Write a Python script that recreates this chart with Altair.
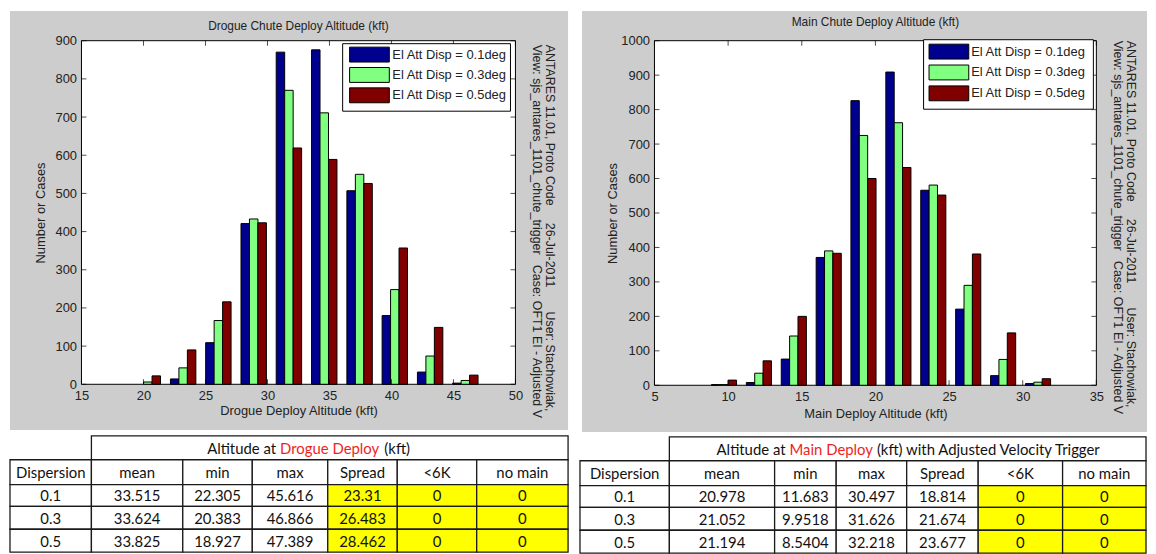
import altair as alt
import pandas as pd

# ---------------------------------------------------------------- data
SERIES = ["El Att Disp = 0.1deg", "El Att Disp = 0.3deg", "El Att Disp = 0.5deg"]
SERIES_COLORS = ["#00008F", "#80FF80", "#800000"]

DROGUE_BIN_CENTERS = [20.35, 23.20, 26.04, 28.89, 31.73, 34.58, 37.43, 40.27, 43.12, 45.96]
DROGUE_COUNTS_01 = [0, 14, 109, 421, 870, 876, 507, 180, 32, 3]
DROGUE_COUNTS_03 = [6, 43, 167, 433, 770, 711, 550, 248, 74, 10]
DROGUE_COUNTS_05 = [22, 90, 216, 423, 619, 589, 526, 357, 149, 24]

MAIN_BIN_CENTERS = [9.72, 12.09, 14.46, 16.83, 19.19, 21.56, 23.93, 26.30, 28.67, 31.04]
MAIN_COUNTS_01 = [2, 8, 76, 371, 826, 909, 566, 221, 28, 5]
MAIN_COUNTS_03 = [2, 35, 143, 390, 725, 762, 581, 290, 75, 9]
MAIN_COUNTS_05 = [15, 71, 200, 383, 600, 632, 552, 381, 152, 19]

DROGUE_X_TICKS = [15, 20, 25, 30, 35, 40, 45, 50]
DROGUE_Y_TICKS = [0, 100, 200, 300, 400, 500, 600, 700, 800, 900]
MAIN_X_TICKS = [5, 10, 15, 20, 25, 30, 35]
MAIN_Y_TICKS = [0, 100, 200, 300, 400, 500, 600, 700, 800, 900, 1000]

TABLE_COLUMNS = ["Dispersion", "mean", "min", "max", "Spread", "<6K", "no main"]
DISPERSIONS = ["0.1", "0.3", "0.5"]

DROGUE_MEAN = ["33.515", "33.624", "33.825"]
DROGUE_MIN = ["22.305", "20.383", "18.927"]
DROGUE_MAX = ["45.616", "46.866", "47.389"]
DROGUE_SPREAD = ["23.31", "26.483", "28.462"]
DROGUE_UNDER_6K = ["0", "0", "0"]
DROGUE_NO_MAIN = ["0", "0", "0"]

MAIN_MEAN = ["20.978", "21.052", "21.194"]
MAIN_MIN = ["11.683", "9.9518", "8.5404"]
MAIN_MAX = ["30.497", "31.626", "32.218"]
MAIN_SPREAD = ["18.814", "21.674", "23.677"]
MAIN_UNDER_6K = ["0", "0", "0"]
MAIN_NO_MAIN = ["0", "0", "0"]

NBSP = "\u00a0"
SIDE_LINE_1 = ("ANTARES 11.01, Proto Code" + NBSP * 5 + "26-Jul-2011" + NBSP * 7
               + "User: Stachowiak,")
SIDE_LINE_2 = ("View: sjs_antares_1101_chute_trigger" + NBSP * 3
               + "Case: OFT1 EI - Adjusted V")

# ---------------------------------------------------------------- style
GREY = "#CDCDCD"
YELLOW = "#FFFF00"
RED_TEXT = "#F01E1E"
INK = "#222222"
FONT = "Liberation Sans"
TFONT = "Lato"
RECT_PATH = "M-1,-0.375H1V0.375H-1Z"
BAR_FRACTION = 0.24
ROW_EDGES = [0, 24, 49, 71, 94, 117]

DUMMY = pd.DataFrame({"k": [0]})


def bars_frame(centers, counts_list, spacing):
    bw = spacing * BAR_FRACTION
    rows = []
    for si, (name, counts) in enumerate(zip(SERIES, counts_list)):
        for c, n in zip(centers, counts):
            left = c + (si - 1.5) * bw
            rows.append({"series": name, "x0": left, "x1": left + bw, "count": n})
    return pd.DataFrame(rows)


def value_rect(x0, x1, y0, y1, **kw):
    return alt.Chart(DUMMY).mark_rect(**kw).encode(
        x=alt.value(x0), x2=alt.value(x1), y=alt.value(y0), y2=alt.value(y1))


def value_text(text, x, y, **kw):
    return alt.Chart(DUMMY).mark_text(text=text, font=FONT, color=INK, **kw).encode(
        x=alt.value(x), y=alt.value(y))


def table_layers(values_by_col, col_edges, x_off, y_off, yellow_cols, header_parts):
    W = col_edges[-1]
    H = ROW_EDGES[-1]
    xs = alt.Scale(domain=[0, W], range=[x_off, x_off + W], nice=False, zero=False)
    ys = alt.Scale(domain=[0, H], range=[y_off, y_off + H], nice=False, zero=False)
    cells = [dict(x0=col_edges[1], x1=W, y0=ROW_EDGES[0], y1=ROW_EDGES[1],
                  fill="white", text="")]
    for ci, name in enumerate(TABLE_COLUMNS):
        cells.append(dict(x0=col_edges[ci], x1=col_edges[ci + 1], y0=ROW_EDGES[1],
                          y1=ROW_EDGES[2], fill="white", text=name))
    for ri in range(3):
        for ci, col in enumerate(values_by_col):
            cells.append(dict(x0=col_edges[ci], x1=col_edges[ci + 1],
                              y0=ROW_EDGES[2 + ri], y1=ROW_EDGES[3 + ri],
                              fill=YELLOW if ci in yellow_cols else "white",
                              text=col[ri]))
    df = pd.DataFrame(cells)
    df["xc"] = (df["x0"] + df["x1"]) / 2
    df["yc"] = (df["y0"] + df["y1"]) / 2 + 1
    rects = alt.Chart(df).mark_rect(stroke="#1a1a1a", strokeWidth=1.3).encode(
        x=alt.X("x0:Q", scale=xs, axis=None), x2="x1",
        y=alt.Y("y0:Q", scale=ys, axis=None), y2="y1",
        fill=alt.Fill("fill:N", scale=None))
    texts = alt.Chart(df[df["text"] != ""]).mark_text(
        font=TFONT, fontSize=15, color="#111111", baseline="middle").encode(
        x=alt.X("xc:Q", scale=xs, axis=None),
        y=alt.Y("yc:Q", scale=ys, axis=None),
        text="text:N")
    hdf = pd.DataFrame(header_parts)
    hdf["y"] = (ROW_EDGES[0] + ROW_EDGES[1]) / 2 + 1
    layers = [rects, texts]
    for align in ["left", "right"]:
        sub = hdf[hdf["align"] == align]
        layers.append(alt.Chart(sub).mark_text(
            font=TFONT, fontSize=15, baseline="middle", align=align).encode(
            x=alt.X("x:Q", scale=xs, axis=None),
            y=alt.Y("y:Q", scale=ys, axis=None),
            text="text:N",
            fill=alt.Fill("color:N", scale=None)))
    return layers


def build_panel(p):
    W, H = p["width"], p["height"]
    xscale = alt.Scale(domain=p["xdomain"], nice=False, zero=False)
    yscale = alt.Scale(domain=p["ydomain"], nice=False, zero=False)
    cscale = alt.Scale(domain=SERIES, range=SERIES_COLORS)

    xaxis = alt.Axis(values=p["xticks"], title=p["xtitle"], ticks=False, domain=False,
                     grid=False, labelFontSize=13, labelPadding=5, labelColor=INK,
                     labelFont=FONT, labelFlush=False, labelOverlap=False, format="d",
                     titleFont=FONT, titleFontSize=13, titleFontWeight="normal",
                     titleColor=INK, titleX=W / 2, titleY=p["xtitle_y"],
                     titleBaseline="middle", titleAlign="center", zindex=1)
    yaxis = alt.Axis(values=p["yticks"], title="Number or Cases", ticks=False,
                     domain=False, grid=False, labelFontSize=13, labelPadding=5,
                     labelColor=INK, labelFont=FONT, labelFlush=False, format="d",
                     labelOverlap=False, titleFont=FONT, titleFontSize=13,
                     titleFontWeight="normal", titleColor=INK, titleX=p["ytitle_x"],
                     titleY=H / 2, titleAngle=270, titleBaseline="middle",
                     titleAlign="center", zindex=1)

    gx0, gx1, gy0, gy1 = p["grey"]
    grey = value_rect(gx0, gx1, gy0, gy1, fill=GREY, strokeWidth=0)
    white = value_rect(0, W, 0, H, fill="white", stroke="black", strokeWidth=1)

    bars = alt.Chart(p["bars"]).transform_filter("datum.count > 0").mark_rect(
        stroke="black", strokeWidth=1).encode(
        x=alt.X("x0:Q", scale=xscale, axis=xaxis), x2="x1",
        y=alt.Y("count:Q", scale=yscale, axis=yaxis), y2=alt.datum(0),
        color=alt.Color("series:N", scale=cscale, legend=None))

    xt = pd.DataFrame({"v": p["xticks"]})
    yt = pd.DataFrame({"v": p["yticks"]})
    tick_layers = []
    for yy in [H - 2.5, 2.5]:
        tick_layers.append(alt.Chart(xt).mark_tick(color="black", size=5, thickness=1).encode(
            x=alt.X("v:Q", scale=xscale, axis=None), y=alt.value(yy)))
    for xx in [2.5, W - 2.5]:
        tick_layers.append(alt.Chart(yt).mark_tick(color="black", size=5, thickness=1).encode(
            y=alt.Y("v:Q", scale=yscale, axis=None), x=alt.value(xx)))

    lx0, lx1, ly0, ly1 = p["legend_box"]
    leg_box = value_rect(lx0, lx1, ly0, ly1, fill="white", stroke="black", strokeWidth=1)
    leg_df = pd.DataFrame({"series": SERIES})
    leg_y = alt.Y("series:N", axis=None,
                  scale=alt.Scale(type="point", domain=SERIES, range=p["legend_rows"],
                                  padding=0))
    swatches = alt.Chart(leg_df).mark_point(
        shape=RECT_PATH, size=1600, filled=True, stroke="black", strokeWidth=1,
        opacity=1).encode(x=alt.value(p["swatch_x"]), y=leg_y,
                          color=alt.Color("series:N", scale=cscale, legend=None))
    leg_labels = alt.Chart(leg_df).mark_text(
        align="left", baseline="middle", font=FONT, fontSize=13, color=INK).encode(
        x=alt.value(p["label_x"]), y=leg_y, text="series:N")

    title = value_text(p["title"], W / 2, p["title_y"], fontSize=12, align="center",
                       baseline="middle")
    side1 = value_text(SIDE_LINE_1, W + 35, p["side_y"], fontSize=12.5, angle=90,
                       align="left", baseline="middle")
    side2 = value_text(SIDE_LINE_2, W + 22, p["side_y"], fontSize=12.5, angle=90,
                       align="left", baseline="middle")

    tables = table_layers(p["table_values"], p["table_edges"], p["table_x"],
                          p["table_y"], p["yellow_cols"], p["header_parts"])

    layers = [grey, white, bars] + tick_layers + [leg_box, swatches, leg_labels,
                                                   title, side1, side2] + tables
    return alt.layer(*layers).resolve_scale(x="independent", y="independent").properties(
        width=W, height=H)


left = build_panel(dict(
    width=437, height=346,
    xdomain=[15, 50], ydomain=[0, 900],
    xticks=DROGUE_X_TICKS, yticks=DROGUE_Y_TICKS,
    xtitle="Drogue Deploy Altitude (kft)", xtitle_y=26, ytitle_x=-41,
    bars=bars_frame(DROGUE_BIN_CENTERS,
                    [DROGUE_COUNTS_01, DROGUE_COUNTS_03, DROGUE_COUNTS_05], 2.846),
    grey=(-72, 490, -30, 392),
    legend_box=(263, 432, 3, 71), legend_rows=[14, 55], swatch_x=290, label_x=313,
    title="Drogue Chute Deploy Altitude (kft)", title_y=-15, side_y=4,
    table_values=[DISPERSIONS, DROGUE_MEAN, DROGUE_MIN, DROGUE_MAX, DROGUE_SPREAD,
                  DROGUE_UNDER_6K, DROGUE_NO_MAIN],
    table_edges=[0, 82, 174, 244, 320, 390, 470, 562],
    table_x=-72, table_y=398, yellow_cols={4, 5, 6},
    header_parts=[
        dict(text="Altitude at", x=268, align="right", color="#111111"),
        dict(text="Drogue Deploy", x=272, align="left", color=RED_TEXT),
        dict(text="(kft)", x=377, align="left", color="#111111"),
    ],
))

right = build_panel(dict(
    width=445, height=347,
    xdomain=[5, 35], ydomain=[0, 1000],
    xticks=MAIN_X_TICKS, yticks=MAIN_Y_TICKS,
    xtitle="Main Deploy Altitude (kft)", xtitle_y=28, ytitle_x=-42,
    bars=bars_frame(MAIN_BIN_CENTERS,
                    [MAIN_COUNTS_01, MAIN_COUNTS_03, MAIN_COUNTS_05], 2.368),
    grey=(-73, 496, -30, 394),
    legend_box=(271, 442, -1, 69), legend_rows=[11, 53], swatch_x=296.5, label_x=319,
    title="Main Chute Deploy Altitude (kft)", title_y=-19, side_y=0,
    table_values=[DISPERSIONS, MAIN_MEAN, MAIN_MIN, MAIN_MAX, MAIN_SPREAD,
                  MAIN_UNDER_6K, MAIN_NO_MAIN],
    table_edges=[0, 90, 196, 258, 329, 401, 486, 570],
    table_x=-75, table_y=399, yellow_cols={5, 6},
    header_parts=[
        dict(text="Altitude at", x=207, align="right", color="#111111"),
        dict(text="Main Deploy", x=211, align="left", color=RED_TEXT),
        dict(text="(kft) with Adjusted Velocity Trigger", x=299, align="left",
             color="#111111"),
    ],
))

chart = alt.HConcatChart(hconcat=[left, right], spacing=140, bounds="flush").properties(
    padding=0).configure_view(strokeWidth=0).configure(font=FONT)

chart.save("out.html", embed_options={"renderer": "svg", "actions": False})
